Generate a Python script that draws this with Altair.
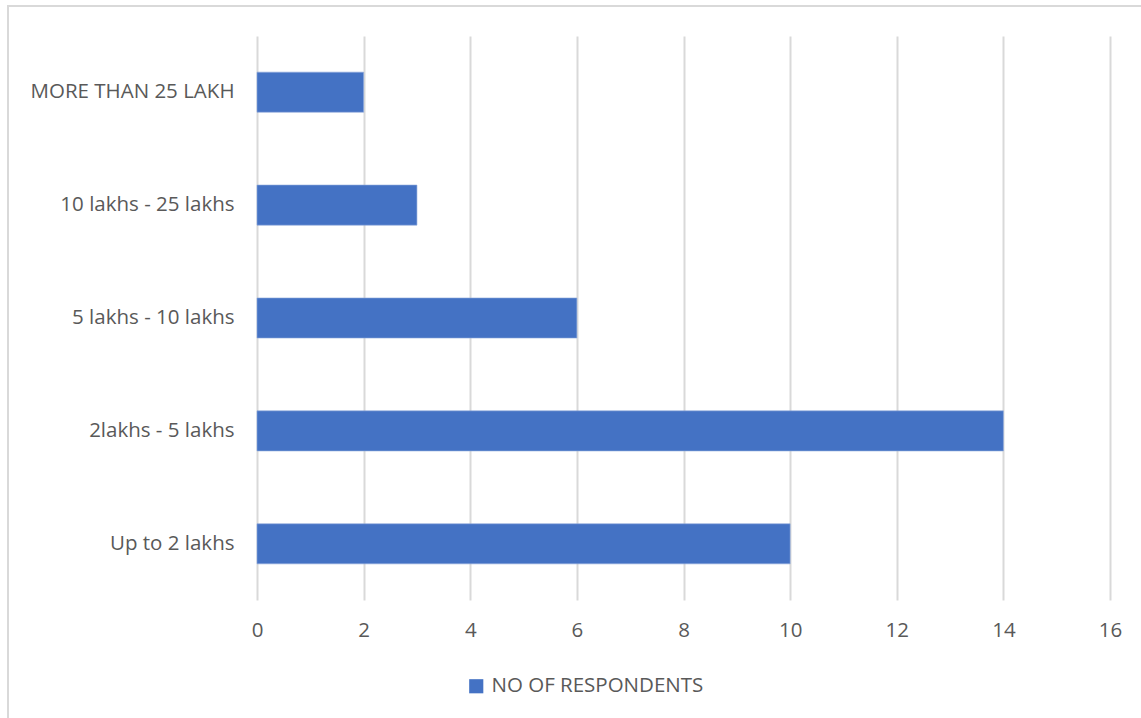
import altair as alt
import pandas as pd

# Annual income brackets and the number of respondents in each
categories = ["MORE THAN 25 LAKH", "10 lakhs - 25 lakhs", "5 lakhs - 10 lakhs",
              "2lakhs - 5 lakhs", "Up to 2 lakhs"]
respondents = [2, 3, 6, 14, 10]
series_name = "NO OF RESPONDENTS"
x_ticks = [0, 2, 4, 6, 8, 10, 12, 14, 16]

df = pd.DataFrame({"bracket": categories, "count": respondents, "series": series_name})

FONT = "Open Sans"
FS = 20.5
TEXT = "#595959"
GRID = "#D9D9D9"
BAR = "#4472C4"

bars = alt.Chart(df).mark_bar(stroke="#8FAADC", strokeWidth=0.6).encode(
    x=alt.X("count:Q",
            scale=alt.Scale(domain=[0, 16], nice=False),
            axis=alt.Axis(values=x_ticks, title=None, domain=False, ticks=False,
                          grid=True, gridColor=GRID, gridWidth=2,
                          labelFont=FONT, labelFontSize=FS, labelColor=TEXT,
                          labelFlush=False, labelPadding=20)),
    y=alt.Y("bracket:N", sort=categories,
            scale=alt.Scale(paddingInner=0.645, paddingOuter=0.32),
            axis=alt.Axis(title=None, domain=False, ticks=False,
                          labelFont=FONT, labelFontSize=FS, labelColor=TEXT,
                          labelLimit=0, labelPadding=23)),
    color=alt.Color("series:N",
                    scale=alt.Scale(domain=[series_name], range=[BAR]),
                    legend=alt.Legend(title=None, orient="none",
                                      legendX=209, legendY=640,
                                      symbolType="square", symbolSize=200,
                                      symbolStrokeWidth=0, labelLimit=0,
                                      labelFont=FONT, labelFontSize=FS,
                                      labelColor=TEXT, labelOffset=5)),
)

# Thin frame around the whole chart
frame = alt.Chart(df).mark_rect(fill=None, stroke=GRID, strokeWidth=2, clip=False).encode(
    x=alt.value(-249), x2=alt.value(892),
    y=alt.value(-30), y2=alt.value(690),
)

chart = alt.layer(frame, bars).properties(
    width=853, height=564,
    autosize=alt.AutoSizeParams(type="none"),
    padding={"left": 257, "top": 36, "right": 31, "bottom": 118},
    background="white",
).configure_view(stroke=None)

chart.save("out.html", embed_options={"renderer": "svg", "actions": False})
